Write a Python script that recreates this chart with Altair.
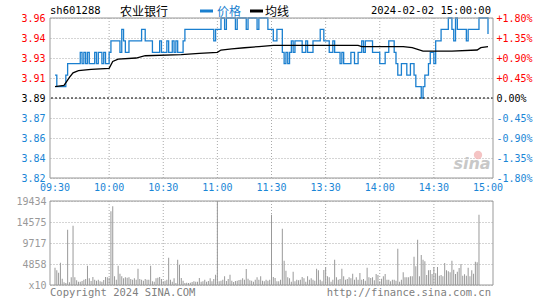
import json
import altair as alt
import pandas as pd

prev_close = 3.89

time_ticks = [0, 30, 60, 90, 120, 150, 180, 210, 240]
time_labels = ["09:30", "10:00", "10:30", "11:00", "11:30", "13:30", "14:00", "14:30", "15:00"]

# price change points (minute index, price)
price_minutes = [0, 1, 6, 7, 14, 15, 16, 17, 18, 19, 22, 23, 24, 26, 27, 28, 30, 31, 36, 37,
                 38, 39, 41, 48, 50, 54, 58, 59, 62, 63, 65, 66, 67, 68, 71, 72, 88, 89, 92, 94,
                 95, 100, 101, 106, 107, 112, 113, 118, 121, 123, 126, 127, 128, 129, 130, 131, 132, 133, 137, 139,
                 140, 143, 147, 149, 152, 154, 155, 158, 159, 160, 164, 166, 168, 170, 171, 172, 176, 180, 183, 185,
                 188, 189, 190, 192, 195, 197, 199, 200, 203, 204, 205, 207, 208, 210, 211, 214, 218, 220, 221, 222,
                 223, 228, 229, 235, 240]
price_values = [3.91, 3.90, 3.91, 3.92, 3.93, 3.92, 3.93, 3.92, 3.93, 3.92, 3.93, 3.92, 3.93, 3.92, 3.93, 3.92, 3.93, 3.94, 3.93, 3.95,
                3.94, 3.93, 3.94, 3.95, 3.94, 3.93, 3.94, 3.93, 3.94, 3.93, 3.94, 3.93, 3.94, 3.93, 3.94, 3.95, 3.94, 3.95, 3.96, 3.95,
                3.96, 3.95, 3.96, 3.95, 3.96, 3.95, 3.96, 3.95, 3.94, 3.95, 3.93, 3.92, 3.93, 3.92, 3.93, 3.94, 3.93, 3.94, 3.93, 3.94,
                3.93, 3.94, 3.95, 3.94, 3.93, 3.94, 3.93, 3.92, 3.93, 3.92, 3.93, 3.92, 3.93, 3.94, 3.93, 3.94, 3.93, 3.92, 3.93, 3.94,
                3.93, 3.92, 3.91, 3.92, 3.91, 3.92, 3.91, 3.90, 3.89, 3.90, 3.91, 3.92, 3.93, 3.92, 3.94, 3.95, 3.96, 3.95, 3.94, 3.96,
                3.95, 3.94, 3.95, 3.96, 3.946]

# average line readings
avg_minutes = [0, 5, 8, 10, 13, 20, 30, 32, 35, 45, 50, 70, 80, 90, 92, 98, 105, 113, 121, 168,
               170, 193, 198, 204, 220, 234, 236, 240]
avg_values = [3.900, 3.901, 3.908, 3.912, 3.914, 3.915, 3.916, 3.922, 3.924, 3.925, 3.927, 3.928, 3.929, 3.930,
              3.932, 3.933, 3.934, 3.935, 3.936, 3.936, 3.935, 3.935, 3.934, 3.931, 3.931, 3.932, 3.934, 3.935]

# per-minute volume (x10)
volume = [
    4010, 3390, 2850, 5170, 1460, 620, 460, 12800, 620, 1770,
    13720, 1770, 1080, 770, 770, 930, 1230, 1390, 4470, 1540,
    930, 1850, 1230, 1000, 1230, 850, 770, 1160, 1850, 1770,
    1700, 17040, 18200, 2000, 1230, 4470, 2620, 2000, 1540, 1770,
    1700, 1770, 1390, 1230, 1540, 1230, 3780, 1390, 1230, 1000,
    1390, 1230, 1230, 4470, 850, 770, 1540, 1700, 1850, 1390,
    850, 1000, 1230, 6320, 1230, 770, 1540, 460, 5860, 4630,
    1620, 1000, 460, 540, 460, 540, 690, 850, 770, 770,
    1620, 770, 850, 1230, 770, 930, 1540, 850, 1390, 2390,
    19434, 850, 1000, 1230, 2000, 930, 1390, 2390, 1000, 690,
    930, 1000, 1160, 1230, 1540, 1230, 3700, 1460, 1080, 1000,
    770, 1230, 1770, 1230, 2000, 1000, 850, 1230, 1000, 1230,
    16270,
    1850, 1620, 850, 850, 1230, 13030, 5630, 3320, 1770,
    1540, 770, 3080, 850, 1230, 1080, 1230, 1850, 1540, 770,
    2000, 1230, 1540, 1230, 1000, 3780, 3390, 1230, 850, 3470,
    4090, 2000, 1770, 770, 1230, 5860, 1770, 1230, 1390, 3780,
    2000, 1230, 1390, 1770, 1540, 2620, 1230, 1770, 1230, 2780,
    1230, 1390, 1000, 4010, 1770, 1620, 1770, 1080, 2540, 2310,
    850, 1460, 2000, 2540, 1230, 1230, 850, 1230, 1230, 1000,
    8400, 770, 1230, 2930, 1770, 1770, 1770, 2000, 2000, 6550,
    4320, 10490, 2000, 6940, 5860, 5470, 2310, 3390, 3470, 2540,
    4160, 2700, 4160, 2160, 2310, 2000, 5090, 3390, 3160, 2930,
    5630, 3550, 2540, 3080, 3930, 4860, 2160, 2470, 2160, 4010,
    2000, 3390, 2620, 5400, 5240, 16270, 0, 0, 0, 0, 0,
]

pct_ticks = [-1.8, -1.35, -0.9, -0.45, 0, 0.45, 0.9, 1.35, 1.8]
price_tick_labels = ["3.82", "3.84", "3.86", "3.87", "3.89", "3.91", "3.93", "3.94", "3.96"]
pct_tick_labels = ["-1.80%", "-1.35%", "-0.90%", "-0.45%", "0.00%", "+0.45%", "+0.90%", "+1.35%", "+1.80%"]
vol_ticks = [0, 4858.5, 9717, 14575.5, 19434]
vol_tick_labels = ["x10", "4858", "9717", "14575", "19434"]

# ---------------- layout / style ----------------
W, H = 443, 267
PH = 160
VT, VB = 183, 267
BLUE = "#1a7fcf"
LBLUE = "#1a86d6"
RED = "#ff0000"
GRID = "#aaaaaa"
FRAME = "#999999"
MONO = "DejaVu Sans Mono"
CJK = "Noto Sans CJK SC"

price_df = pd.DataFrame({"minute": price_minutes, "price": price_values})
avg_df = pd.DataFrame({"minute": avg_minutes, "price": avg_values})
vol_df = pd.DataFrame({"minute": list(range(len(volume))), "vol": volume})
time_df = pd.DataFrame({"minute": time_ticks, "label": time_labels})
vgrid_df = pd.DataFrame({"minute": time_ticks[1:-1]})
one = pd.DataFrame({"k": [0]})

x_scale = alt.Scale(domain=[0, 240], nice=False, zero=False)


def pscale():
    return alt.Scale(domain=[-1.8, 1.8], range=[PH, 0], nice=False, zero=False)


color_cond = {"condition": [{"test": "datum.value > 0.01", "value": RED},
                            {"test": "datum.value < -0.01", "value": LBLUE}],
              "value": "#000000"}

price_label_expr = json.dumps(price_tick_labels) + "[round((datum.value + 1.8) / 0.45)]"
pct_label_expr = json.dumps(pct_tick_labels) + "[round((datum.value + 1.8) / 0.45)]"
vol_label_expr = json.dumps(vol_tick_labels) + "[round(datum.value / 4858.5)]"

pct_calc = f"(datum.price / {prev_close} - 1) * 100"

frames = alt.layer(
    alt.Chart(one).mark_rect(fillOpacity=0, stroke=FRAME, strokeWidth=1).encode(
        x=alt.value(0), x2=alt.value(W), y=alt.value(0), y2=alt.value(PH)),
    alt.Chart(one).mark_rect(fillOpacity=0, stroke=FRAME, strokeWidth=1).encode(
        x=alt.value(0), x2=alt.value(W), y=alt.value(VT), y2=alt.value(VB)),
)

vgrid_top = alt.Chart(vgrid_df).mark_rule(color=GRID, strokeDash=[1, 2]).encode(
    x=alt.X("minute:Q", scale=x_scale, axis=None), y=alt.value(0), y2=alt.value(PH))
vgrid_bot = alt.Chart(vgrid_df).mark_rule(color=GRID, strokeDash=[1, 2]).encode(
    x=alt.X("minute:Q", scale=x_scale, axis=None), y=alt.value(VT), y2=alt.value(VB))

price_line = alt.Chart(price_df).transform_calculate(pct=pct_calc).mark_line(
    interpolate="step-after", color=BLUE, strokeWidth=1.3).encode(
    x=alt.X("minute:Q", scale=x_scale, axis=None),
    y=alt.Y("pct:Q", scale=pscale(), axis=alt.Axis(
        orient="left", values=pct_ticks, labelExpr=price_label_expr, labelColor=color_cond,
        grid=True, gridColor=GRID, gridDash=[1, 2], domain=False, ticks=False, labelPadding=5,
        labelFont=MONO, labelFontSize=10, labelOverlap=False, title=None)),
)

avg_line = alt.Chart(avg_df).transform_calculate(pct=pct_calc).mark_line(
    color="#000000", strokeWidth=1.3).encode(
    x=alt.X("minute:Q", scale=x_scale, axis=None),
    y=alt.Y("pct:Q", scale=pscale(), axis=alt.Axis(
        orient="right", values=pct_ticks, labelExpr=pct_label_expr, labelColor=color_cond,
        grid=False, domain=False, ticks=False, labelPadding=3,
        labelFont=MONO, labelFontSize=10, labelOverlap=False, title=None)),
)

mid_line = alt.Chart(pd.DataFrame({"v": [0]})).mark_rule(color="#000000", strokeDash=[2, 2]).encode(
    y=alt.Y("v:Q", scale=pscale(), axis=None))

vol_bars = alt.Chart(vol_df).mark_bar(width=1, color="#999999").encode(
    x=alt.X("minute:Q", scale=x_scale, axis=None),
    y=alt.Y("vol:Q", scale=alt.Scale(domain=[0, 19434], range=[VB, VT], nice=False, zero=True),
            axis=alt.Axis(orient="left", values=vol_ticks, labelExpr=vol_label_expr,
                          labelColor="#999999", grid=True, gridColor=GRID, gridDash=[1, 2],
                          domain=False, ticks=False, labelPadding=4, labelFont=MONO,
                          labelFontSize=10, labelOverlap=False, title=None)),
)

time_text = alt.Chart(time_df).mark_text(font=MONO, fontSize=10, color=LBLUE, baseline="middle").encode(
    x=alt.X("minute:Q", scale=x_scale, axis=None), y=alt.value(169.5), text="label:N")


def txt(s, x, y, color="#000000", font=MONO, size=10, align="left", **kw):
    return alt.Chart(one).mark_text(text=s, font=font, fontSize=size, color=color, align=align,
                                    baseline="middle", **kw).encode(x=alt.value(x), y=alt.value(y))


header = alt.layer(
    txt("sh601288", 0, -7, size=10.5),
    txt("农业银行", 70, -6, font=CJK, size=12),
    alt.Chart(one).mark_rule(color=BLUE, strokeWidth=3).encode(
        x=alt.value(150), x2=alt.value(163), y=alt.value(-7)),
    txt("价格", 167, -6, color=BLUE, font=CJK, size=12),
    alt.Chart(one).mark_rule(color="#000000", strokeWidth=3).encode(
        x=alt.value(200), x2=alt.value(213), y=alt.value(-7)),
    txt("均线", 215, -6, font=CJK, size=12),
    txt("2024-02-02 15:00:00", 441, -7, size=10.5, align="right"),
    txt("Copyright 2024 SINA.COM", 0, 275, color="#808080", size=10.5),
    txt("http://finance.sina.com.cn", 441, 275, color="#808080", size=10.5, align="right"),
    alt.Chart(one).mark_point(filled=True, size=70, color="#f2b5b5", opacity=0.8).encode(
        x=alt.value(428), y=alt.value(137)),
    txt("sina", 422, 146, color="#c8c8c8", font="DejaVu Sans", size=16, align="center",
        fontWeight="bold", fontStyle="italic"),
)

chart = alt.layer(
    vgrid_top, vgrid_bot, price_line, avg_line, mid_line, vol_bars, frames, time_text, header
).resolve_scale(y="independent").properties(
    width=W, height=H,
    padding={"left": 50, "top": 18, "right": 52, "bottom": 15},
    autosize=alt.AutoSizeParams(type="none"),
    background="#ffffff",
).configure_view(strokeWidth=0)

chart.save("out.html", embed_options={"renderer": "svg", "actions": False})
